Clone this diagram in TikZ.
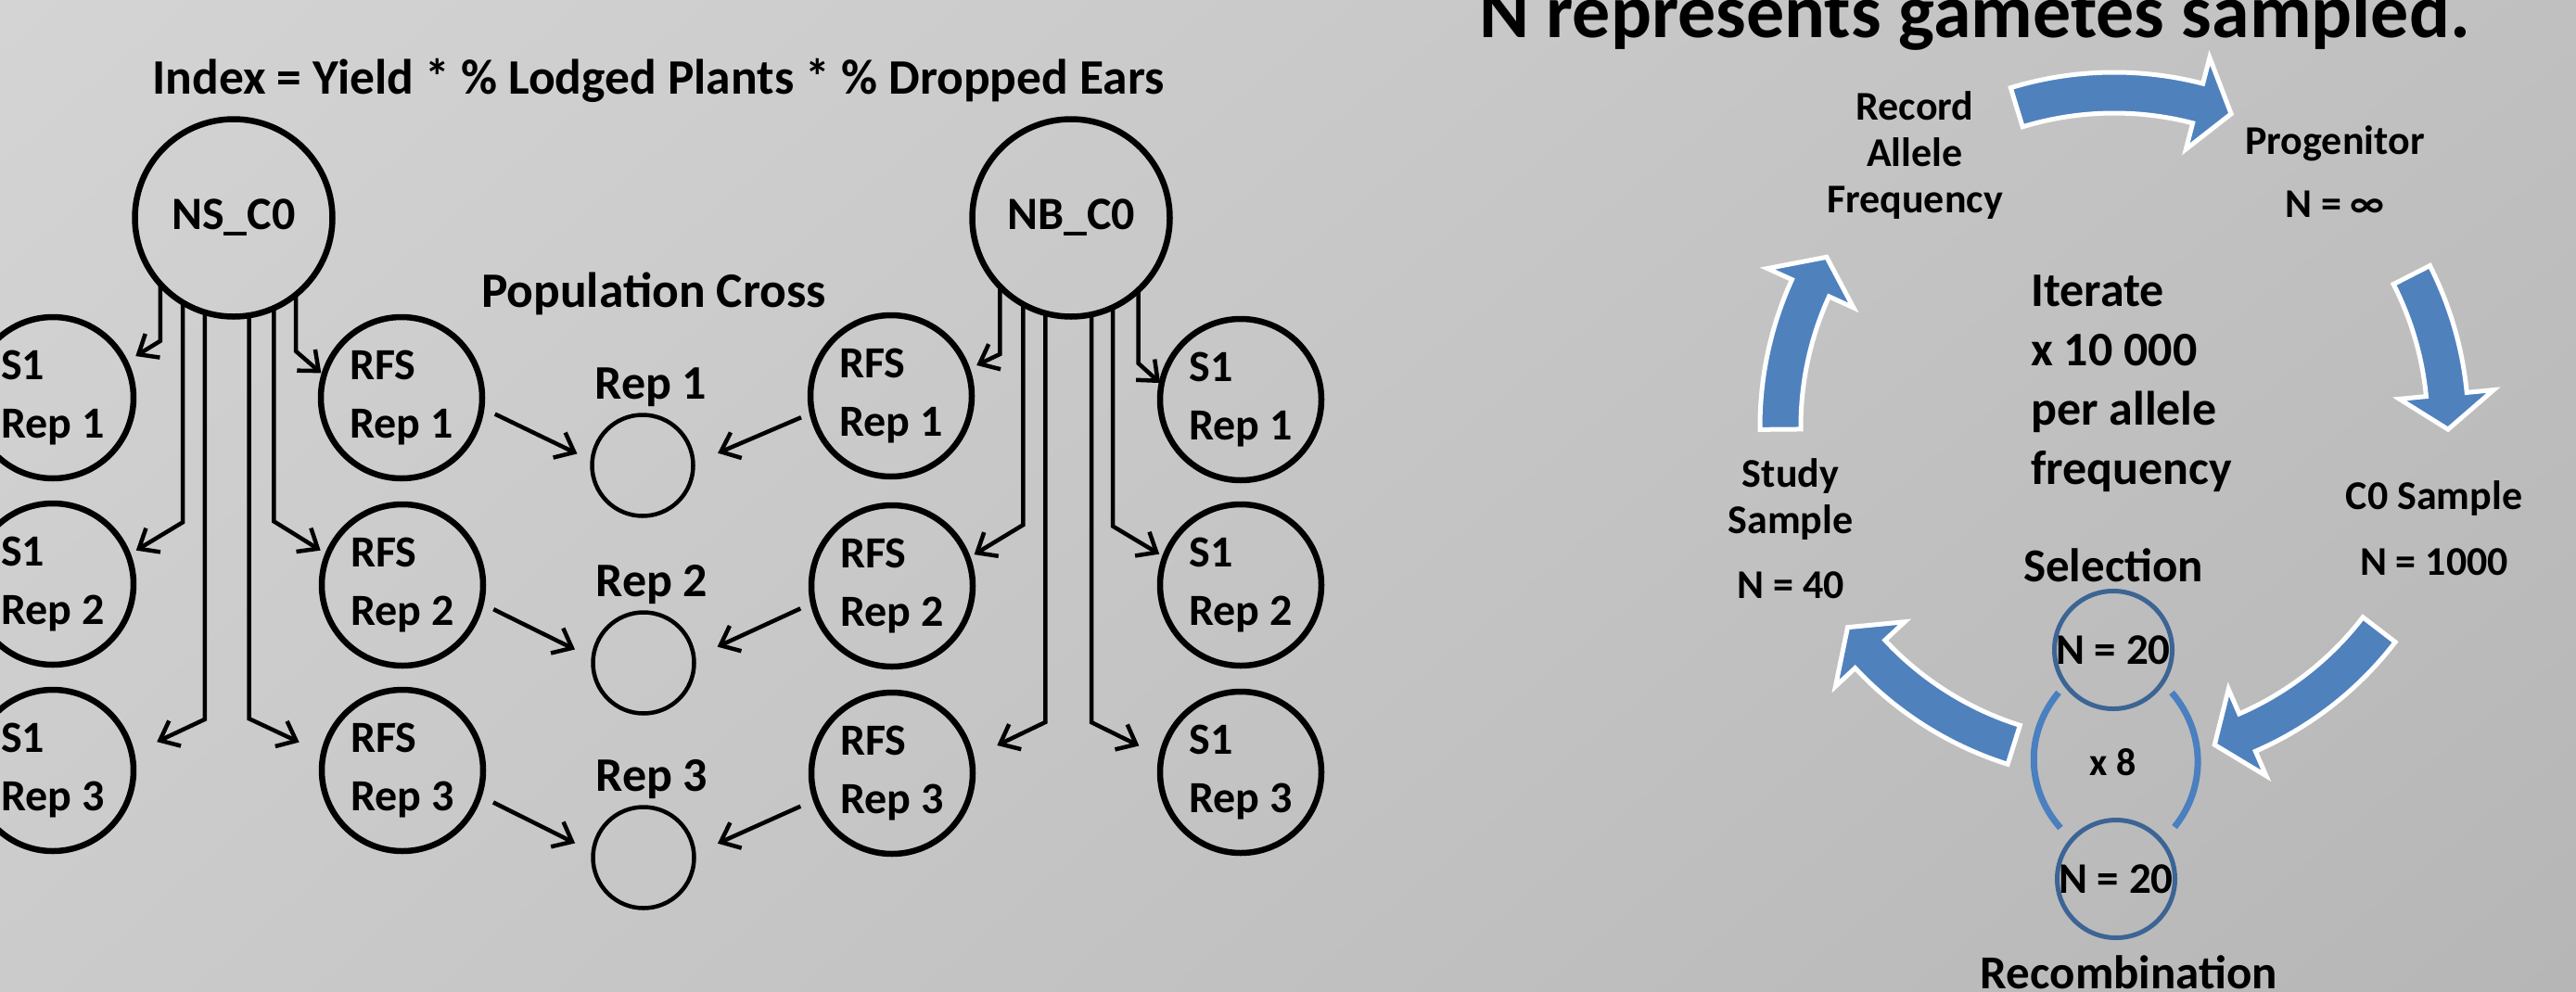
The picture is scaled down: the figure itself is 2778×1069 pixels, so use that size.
\documentclass[tikz,border=0pt]{standalone}
\usepackage{fontspec}
\setmainfont{Carlito}
\usetikzlibrary{arrows.meta,shadings}
\definecolor{bgUL}{HTML}{D4D4D4}
\definecolor{bgUR}{HTML}{C0C0C0}
\definecolor{bgLL}{HTML}{CBCBCB}
\definecolor{bgLR}{HTML}{B6B6B6}
\definecolor{arrowblue}{HTML}{4F81BD}
\definecolor{ringblue}{HTML}{3C6494}
\definecolor{brkblue}{HTML}{4A7FC0}
\newcommand{\cycarrow}[2]{%
  \filldraw[cyca] (#1:382) arc[start angle=#1, end angle={#2+6}, radius=382]
    -- ({#2+6}:411) -- (#2:360) -- ({#2+6}:309) -- ({#2+6}:338)
    arc[start angle={#2+6}, end angle=#1, radius=338] -- cycle;}
\begin{document}
\begin{tikzpicture}[x=1pt,y=1pt,
  bigc/.style={circle, draw, line width=6.5pt, minimum size=213pt, inner sep=0pt, outer sep=0pt,
    font=\fontsize{50}{60}\selectfont\bfseries},
  medc/.style={circle, draw, line width=6.5pt, minimum size=174pt, inner sep=0pt, outer sep=0pt,
    align=left, font=\fontsize{48}{63}\selectfont\bfseries},
  smc/.style={circle, draw, line width=4.5pt, minimum size=109pt, inner sep=0pt, outer sep=0pt},
  lbl/.style={font=\fontsize{52}{60}\selectfont\bfseries, inner sep=0pt, anchor=base},
  conn/.style={line width=4.5pt, -{Straight Barb[length=18pt,width=30pt]}},
  cyca/.style={fill=arrowblue, draw=white, line width=5pt, line join=miter},
  cyt/.style={font=\fontsize{44}{50}\selectfont\bfseries, inner sep=0pt, align=center},
  bluec/.style={circle, draw=ringblue, line width=5pt, minimum size=127pt, inner sep=0pt, outer sep=0pt,
    font=\fontsize{47}{54}\selectfont\bfseries},
  brk/.style={draw=brkblue, line width=7pt}
]
\clip (0,-1069) rectangle (2778,0);
\useasboundingbox (0,-1069) rectangle (2778,0);
\shade[upper left=bgUL, upper right=bgUR, lower left=bgLL, lower right=bgLR] (0,-1069) rectangle (2778,0);

% ---------- left diagram ----------
\node[lbl, font=\fontsize{53.5}{62}\selectfont\bfseries] (idx) at (710,-101.6) {Index = Yield * \% Lodged Plants * \% Dropped Ears};
\node[lbl, font=\fontsize{53.5}{62}\selectfont\bfseries] (pc) at (705,-331) {Population Cross};

\node[bigc] (NS) at (252,-235) {NS\_C0};
\node[bigc] (NB) at (1155,-235) {NB\_C0};

\node[medc] (S1a) at (57,-429) {S1\\Rep 1};
\node[medc] (S1b) at (57,-630) {S1\\Rep 2};
\node[medc] (S1c) at (57,-831) {S1\\Rep 3};
\node[medc] (RFa) at (433,-429) {RFS\\Rep 1};
\node[medc] (RFb) at (434,-631) {RFS\\Rep 2};
\node[medc] (RFc) at (434,-831) {RFS\\Rep 3};
\node[medc] (RGa) at (961,-427) {RFS\\Rep 1};
\node[medc] (RGb) at (962,-632) {RFS\\Rep 2};
\node[medc] (RGc) at (962,-834) {RFS\\Rep 3};
\node[medc] (S2a) at (1338,-431) {S1\\Rep 1};
\node[medc] (S2b) at (1338,-631) {S1\\Rep 2};
\node[medc] (S2c) at (1338,-833) {S1\\Rep 3};

\node[smc] (Ca) at (693,-502) {};
\node[smc] (Cb) at (694,-715) {};
\node[smc] (Cc) at (694,-925) {};
\node[lbl] (r1) at (702,-430) {Rep 1};
\node[lbl] (r2) at (703,-643) {Rep 2};
\node[lbl] (r3) at (703,-853) {Rep 3};

% NS_C0 connectors
\draw[conn, shorten >=13pt] (NS.-138.8) -- ++(0,-61.5) -- (S1a.26.6);
\draw[conn, shorten >=10pt] (NS.-121.5) -- ++(0,-237) -- (S1b.21.6);
\draw[conn, shorten >=30pt] (NS.-107.6) -- ++(0,-439) -- (S1c.12.7);
\draw[conn, shorten >=4pt] (NS.-51.4) -- ++(0,-61) -- (RFa.164.9);
\draw[conn, shorten >=9pt] (NS.-66.8) -- ++(0,-230) -- (RFb.158.2);
\draw[conn, shorten >=29pt] (NS.-81.6) -- ++(0,-435) -- (RFc.168.7);
% NB_C0 connectors
\draw[conn, shorten >=11pt] (NB.-136.5) -- ++(0,-73) -- (RGa.19.5);
\draw[conn, shorten >=8pt] (NB.-119.7) -- ++(0,-238) -- (RGb.20.1);
\draw[conn, shorten >=31pt] (NB.-105.4) -- ++(0,-441) -- (RGc.11.6);
\draw[conn, shorten >=2pt] (NB.-47.9) -- ++(0,-79) -- (S2a.169.7);
\draw[conn, shorten >=7pt] (NB.-65) -- ++(0,-236) -- (S2b.160.2);
\draw[conn, shorten >=27pt] (NB.-78.4) -- ++(0,-440) -- (S2c.169.5);
% population cross connectors
\draw[conn, shorten <=16pt, shorten >=18pt] (RFa.-7.2) -- (Ca.175.3);
\draw[conn, shorten <=15pt, shorten >=22pt] (RFb.-13.5) -- (Cb.175.5);
\draw[conn, shorten <=17pt, shorten >=22pt] (RFc.-18.8) -- (Cc.174.8);
\draw[conn, shorten <=13pt, shorten >=29pt] (RGa.-168) -- (Ca.2);
\draw[conn, shorten <=15pt, shorten >=28pt] (RGb.-168.8) -- (Cb.6.9);
\draw[conn, shorten <=18pt, shorten >=28pt] (RGc.-161.9) -- (Cc.4.8);

% ---------- right cycle ----------
\node[anchor=base west, font=\fontsize{82}{90}\selectfont\bfseries, inner sep=0pt] (ttl) at (1595,-40) {N represents gametes sampled.};

\begin{scope}[shift={(2280,-460)}]
  \cycarrow{107}{69.5}
  \cycarrow{27}{-0.5}
  \cycarrow{-37.5}{-72.5}
  \cycarrow{-107.5}{-143}
  \cycarrow{180.5}{149.5}
\end{scope}

\node[cyt, anchor=north] (rec) at (2065,-98) {Record\\Allele\\Frequency};
\node[cyt, anchor=north] (prog) at (2518,-135) {Progenitor\\[18pt]N = ∞};
\node[cyt, anchor=north] (study) at (1931,-494) {Study\\Sample\\[20pt]N = 40};
\node[cyt, anchor=north] (c0) at (2625,-518) {C0 Sample\\[21pt]N = 1000};
\node[anchor=north west, inner sep=0pt, align=left, font=\fontsize{52}{64}\selectfont\bfseries] (iter) at (2190,-297) {Iterate\\x 10 000\\per allele\\frequency};

\node[lbl, font=\fontsize{51}{60}\selectfont\bfseries] (seltxt) at (2279,-627) {Selection};
\node[lbl, font=\fontsize{51}{60}\selectfont\bfseries] (rectxt) at (2296,-1066) {Recombination};
\node[bluec] (sel) at (2279,-701) {N = 20};
\node[bluec] (recomb) at (2282,-948) {N = 20};
\node[lbl, font=\fontsize{42}{50}\selectfont\bfseries] (x8) at (2279,-836) {x 8};
\draw[brk] (2220,-747) .. controls (2184,-790) and (2184,-850) .. (2222,-893);
\draw[brk] (2342,-747) .. controls (2379,-790) and (2379,-850) .. (2345,-892);
\end{tikzpicture}
\end{document}
